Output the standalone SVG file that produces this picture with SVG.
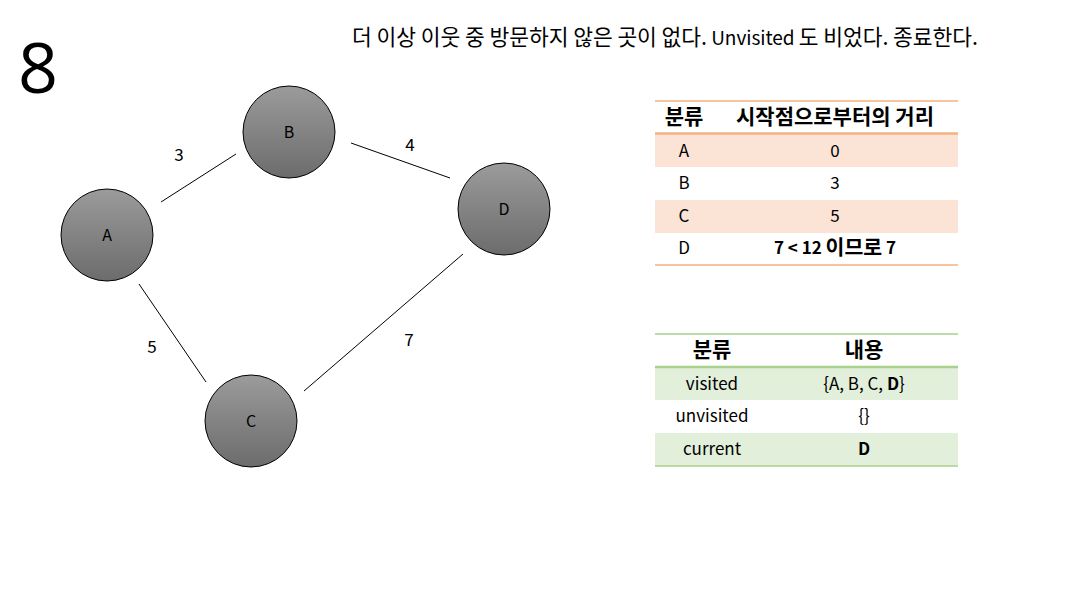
<svg xmlns="http://www.w3.org/2000/svg" width="1066" height="594" viewBox="0 0 1066 594">
<style>
text{font-family:"Noto Sans CJK KR","Open Sans","Liberation Sans",sans-serif;fill:#000}
.nl{font-size:16px;text-anchor:middle;dominant-baseline:central}
.el{font-size:17px;text-anchor:middle;dominant-baseline:central}
.td{font-size:17px;text-anchor:middle;dominant-baseline:central}
.th{font-size:21px;font-weight:bold;text-anchor:middle;dominant-baseline:central}
.ko{font-size:20.5px}
.b{font-weight:bold}
.edge{stroke:#000;stroke-width:1}
.node{fill:url(#g);stroke:#000;stroke-width:1}
</style>
<defs>
<linearGradient id="g" x1="0" y1="0" x2="0" y2="1">
<stop offset="0" stop-color="#9b9b9b"/>
<stop offset="1" stop-color="#6c6c6c"/>
</linearGradient>
</defs>
<rect width="1066" height="594" fill="#fff"/>
<text x="18" y="93" style="font-size:70px;font-family:'Open Sans','Liberation Sans',sans-serif">8</text>
<text x="352" y="45" style="font-size:19px" textLength="626" lengthAdjust="spacing"><tspan style="font-size:21.5px">더 이상 이웃 중 방문하지 않은 곳이 없다.</tspan> Unvisited <tspan style="font-size:21.5px">도 비었다. 종료한다.</tspan></text>
<g id="connectors">
<line class="edge" x1="161" y1="202" x2="236" y2="154"/>
<line class="edge" x1="351" y1="143" x2="450" y2="178"/>
<line class="edge" x1="139" y1="284" x2="206" y2="382"/>
<line class="edge" x1="304" y1="391" x2="463" y2="254"/>
<text class="el" x="179" y="153">3</text>
<text class="el" x="410" y="143">4</text>
<text class="el" x="152" y="345">5</text>
<text class="el" x="409" y="338">7</text>
</g>
<g id="node-A"><circle class="node" cx="107" cy="235" r="46"/><text class="nl" x="107" y="234">A</text></g>
<g id="node-B"><circle class="node" cx="289" cy="132" r="46"/><text class="nl" x="289" y="131">B</text></g>
<g id="node-D"><circle class="node" cx="504" cy="209" r="46"/><text class="nl" x="504" y="208">D</text></g>
<g id="node-C"><circle class="node" cx="251" cy="421" r="46"/><text class="nl" x="251" y="420">C</text></g>
<g id="table-distance">
<rect x="655" y="134" width="303" height="33" fill="#fbe4d5"/>
<rect x="655" y="200" width="303" height="33" fill="#fbe4d5"/>
<line x1="655" y1="101" x2="958" y2="101" stroke="#f4b183" stroke-width="1.5"/>
<line x1="655" y1="133.5" x2="958" y2="133.5" stroke="#f4b183" stroke-width="2.5"/>
<line x1="655" y1="265" x2="958" y2="265" stroke="#f4b183" stroke-width="1.5"/>
<text class="th" x="684" y="115">분류</text>
<text class="th" x="835" y="115">시작점으로부터의 거리</text>
<text class="td" x="684" y="149">A</text><text class="td" x="835" y="149">0</text>
<text class="td" x="684" y="181">B</text><text class="td" x="835" y="181">3</text>
<text class="td" x="684" y="214">C</text><text class="td" x="835" y="214">5</text>
<text class="td" x="684" y="246">D</text><text class="td b" x="835" y="246">7 &lt; 12 <tspan class="ko">이므로</tspan> 7</text>
</g>
<g id="table-sets">
<rect x="655" y="368" width="303" height="32" fill="#e2efda"/>
<rect x="655" y="433" width="303" height="33" fill="#e2efda"/>
<line x1="655" y1="334" x2="958" y2="334" stroke="#a9d18e" stroke-width="1.5"/>
<line x1="655" y1="367" x2="958" y2="367" stroke="#a9d18e" stroke-width="2.5"/>
<line x1="655" y1="466" x2="958" y2="466" stroke="#a9d18e" stroke-width="1.5"/>
<text class="th" x="712" y="348">분류</text>
<text class="th" x="864" y="348">내용</text>
<text class="td" x="712" y="382">visited</text><text class="td" x="864" y="382">{A, B, C, <tspan font-weight="bold">D</tspan>}</text>
<text class="td" x="712" y="414">unvisited</text><text class="td" x="864" y="414">{}</text>
<text class="td" x="712" y="447">current</text><text class="td b" x="864" y="447">D</text>
</g>
</svg>
